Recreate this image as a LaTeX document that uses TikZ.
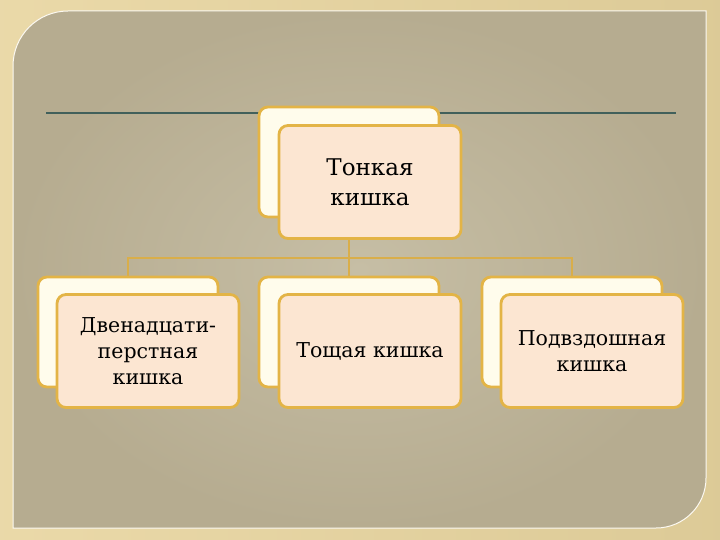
\documentclass[tikz,border=0pt]{standalone}
\usepackage{fontspec}
\setmainfont{DejaVu Serif}
\usepackage{xcolor}
\usepackage{tikz}
\usetikzlibrary{positioning, calc}

\definecolor{framebg}{HTML}{E8D59F}
\definecolor{slidebg}{HTML}{B6AC90}
\definecolor{slidemid}{HTML}{C6BEA5}
\definecolor{ruleline}{HTML}{41605B}
\definecolor{goldline}{HTML}{D9AE4A}
\definecolor{boxedge}{HTML}{E3B446}
\definecolor{backfill}{HTML}{FFFCEC}
\definecolor{frontfill}{HTML}{FCE6D2}

\begin{document}
\begin{tikzpicture}[
      x=1pt, y=-1pt,
      backbox/.style={draw=boxedge, line width=2.8pt, fill=backfill, rounded corners=9pt,
        minimum width=180pt, minimum height=110pt, inner sep=0pt},
      frontbox/.style={draw=boxedge, line width=2.8pt, fill=frontfill, rounded corners=9pt,
        minimum width=182pt, minimum height=113pt, inner sep=2pt, align=center,
        font=\fontsize{20.5}{26}\selectfont},
      link/.style={draw=goldline, line width=2.4pt}
    ]
      \useasboundingbox (0,0) rectangle (720,540);
      \shade[left color=framebg!90!white, right color=framebg!95!black] (0,0) rectangle (720,540);
      \shade[inner color=slidemid, outer color=slidebg, draw=white!85!framebg, line width=1pt]
        (13,66) arc[start angle=180, end angle=270, radius=55] -- (706,11) -- (706,478)
        arc[start angle=0, end angle=90, radius=50] -- (13,528) -- cycle;

      \coordinate (rl) at (46,113);
      \coordinate (rr) at (676,113);
      \draw[ruleline, line width=1.8pt] (rl) -- (rr);

      \node[backbox] (tb) at (349,162) {};
      \node[backbox] (d1b) at (128,332) {};
      \node[backbox] (d2b) at (349,332) {};
      \node[backbox] (d3b) at (572,332) {};

      \coordinate (bus) at (349,258);
      \draw[link] (tb.south) -- (bus);
      \draw[link] (d1b.north) |- (bus) -| (d3b.north);
      \draw[link] (bus) -- (d2b.north);

      \node[frontbox, font=\fontsize{23}{30}\selectfont] (t) at (370,182) {Тонкая\\кишка};
      \node[frontbox] (d1) at (148,351) {Двенадцати-\\перстная\\кишка};
      \node[frontbox] (d2) at (370,351) {Тощая кишка};
      \node[frontbox] (d3) at (592,351) {Подвздошная\\кишка};
    \end{tikzpicture}
\end{document}
